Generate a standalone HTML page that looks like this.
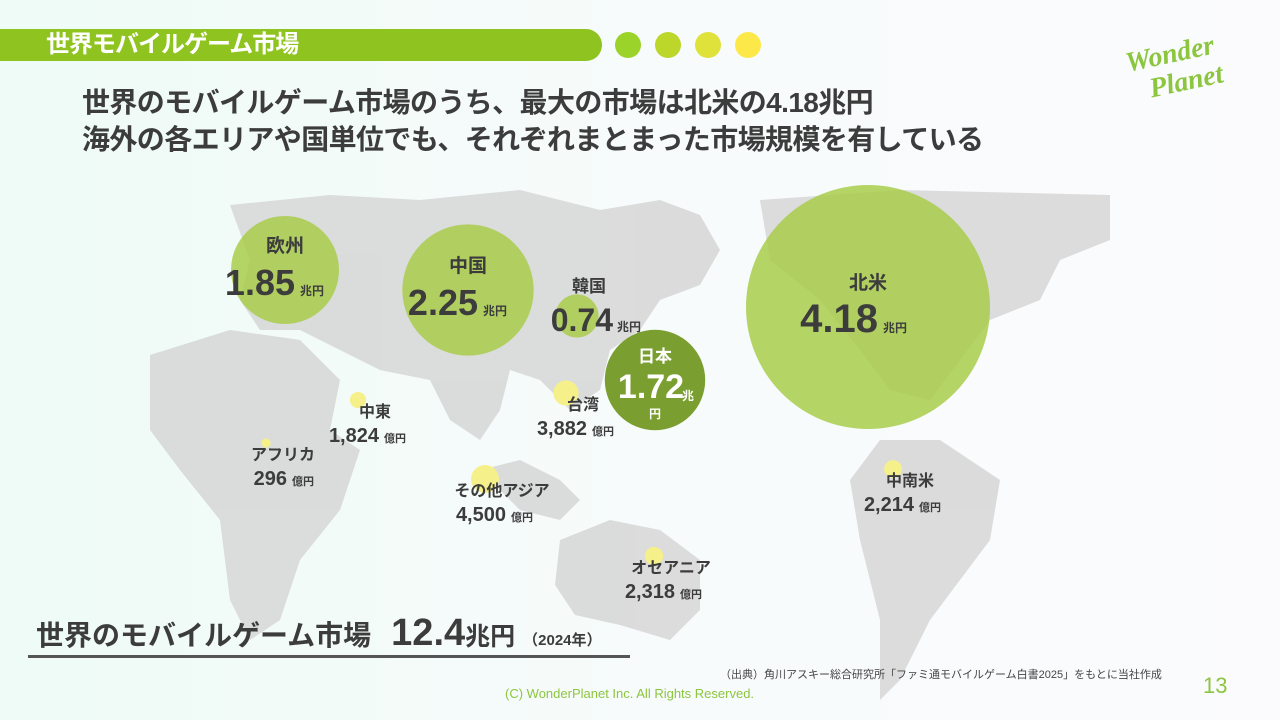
<!DOCTYPE html>
<html><head><meta charset="utf-8">
<style>
body{margin:0;width:1280px;height:720px;overflow:hidden;font-family:"Liberation Sans","Noto Sans CJK JP",sans-serif;}
#root{position:relative;width:1280px;height:720px;background:linear-gradient(90deg,#eefbf6 0%,#f7fbfb 50%,#fbfbfd 100%);}
.abs{position:absolute;}
</style></head><body>
<div id="root">
<div class="abs" style="left:0;top:29px;width:602px;height:32px;background:#8fc31f;border-radius:0 16px 16px 0;"></div>
<div class="abs" style="left:46px;top:30px;color:#fff;font-size:24px;font-weight:bold;line-height:30px;letter-spacing:-1px;">世界モバイルゲーム市場</div>
<div class="abs" style="left:615px;top:32px;width:26px;height:26px;border-radius:50%;background:#9bd32a"></div>
<div class="abs" style="left:655px;top:32px;width:26px;height:26px;border-radius:50%;background:#bcd72a"></div>
<div class="abs" style="left:695px;top:32px;width:26px;height:26px;border-radius:50%;background:#dfe23a"></div>
<div class="abs" style="left:735px;top:32px;width:26px;height:26px;border-radius:50%;background:#fde84a"></div>
<div class="abs" style="left:1130px;top:36px;width:120px;height:80px;color:#8cc63f;font-family:'Liberation Serif',serif;font-style:italic;font-weight:bold;transform:rotate(-12deg);">
<div style="font-size:28px;line-height:30px;">Wonder</div><div style="font-size:28px;line-height:30px;margin-left:18px;">Planet</div></div>
<div class="abs" style="left:82px;top:84px;color:#3c3c3c;font-size:28px;font-weight:bold;line-height:37px;letter-spacing:-0.6px;white-space:nowrap;">世界のモバイルゲーム市場のうち、最大の市場は北米の4.18兆円<br>海外の各エリアや国単位でも、それぞれまとまった市場規模を有している</div>
<svg class="abs" style="left:0;top:0" width="1280" height="720">
<g fill="#d8d8d8" opacity="0.9">
<path d="M230,205 L330,195 L420,200 L520,190 L600,210 L660,200 L700,215 L720,250 L700,285 L660,300 L640,330 L610,350 L600,390 L570,410 L540,380 L510,370 L500,410 L480,440 L450,420 L430,380 L380,370 L340,350 L300,330 L260,330 L240,300 L250,260 Z"/>
<path d="M150,355 L230,330 L300,340 L340,380 L330,430 L360,450 L340,510 L300,560 L280,620 L250,640 L230,600 L220,520 L180,470 L150,430 Z"/>
<path d="M480,470 L520,460 L560,480 L580,500 L560,520 L520,510 Z"/>
<path d="M560,540 L610,520 L660,530 L700,560 L700,610 L670,640 L620,625 L575,615 L555,585 Z"/>
<path d="M760,200 L900,190 L1110,195 L1110,240 L1060,260 L1040,300 L990,320 L960,360 L930,400 L890,390 L860,350 L820,300 L770,260 Z"/>
<path d="M880,440 L940,440 L1000,480 L990,540 L960,580 L930,620 L900,680 L880,700 L880,620 L860,540 L850,480 Z"/>
</g>
<g id="bubbles"></g>
<g id="labels"></g>
</svg>
<div class="abs" style="left:36px;top:612px;color:#3c3c3c;font-weight:bold;white-space:nowrap;">
<span style="font-size:28px;">世界のモバイルゲーム市場</span><span style="font-size:38px;margin-left:20px;">12.4</span><span style="font-size:25px;">兆円</span><span style="font-size:15px;margin-left:8px;">（2024年）</span></div>
<div class="abs" style="left:28px;top:655px;width:602px;height:3px;background:#555;"></div>
<div class="abs" style="left:720px;top:666px;font-size:11px;color:#444;">（出典）角川アスキー総合研究所「ファミ通モバイルゲーム白書2025」をもとに当社作成</div>
<div class="abs" style="left:505px;top:686px;font-size:13px;color:#8cc63f;">(C) WonderPlanet Inc.  All Rights Reserved.</div>
<div class="abs" style="left:1203px;top:673px;font-size:22px;color:#8cc63f;">13</div>
</div>
<script>
// large markets (兆円)
const bigNames=["欧州","中国","韓国","日本","北米"];
const bigValues=[1.85,2.25,0.74,1.72,4.18];
const bigLoc=[[285,270],[468,290],[577,316],[655,380],[868,307]];
// small markets (億円)
const smallNames=["中東","台湾","その他アジア","アフリカ","オセアニア","中南米"];
const smallValues=[1824,3882,4500,296,2318,2214];
const smallLoc=[[358,400],[566,393],[485,479],[266,443],[654,556],[893,469]];
const NS="http://www.w3.org/2000/svg";
const rScale=v=>v/4.18*122;
const sScale=v=>4+v/450;
const gb=document.getElementById('bubbles'),gl=document.getElementById('labels');
function txt(x,y,s,size,anchor,fill){const t=document.createElementNS(NS,'text');t.setAttribute('x',x);t.setAttribute('y',y);t.setAttribute('font-size',size);t.setAttribute('font-weight','bold');t.setAttribute('text-anchor',anchor||'middle');t.setAttribute('fill',fill||'#3c3c3c');t.textContent=s;gl.appendChild(t);return t;}
bigValues.forEach((v,i)=>{
 const [cx,cy]=bigLoc[i];const r=rScale(v);
 const c=document.createElementNS(NS,'circle');
 
 
 c.setAttribute('cx',cx);c.setAttribute('cy',cy);c.setAttribute('r',r);
 c.setAttribute('fill',bigNames[i]==="日本"?'#7a9f30':'#a9cc4b');c.setAttribute('opacity',bigNames[i]==="日本"?1:0.85);
 gb.appendChild(c);
 const dark=bigNames[i]==="日本";const col=dark?'#fff':'#3c3c3c';
 if(bigNames[i]==="韓国"){txt(cx+12,cy-24,bigNames[i],17);const t=txt(cx+36,cy+15,v.toFixed(2),32,'end');txt(cx+52,cy+15,'兆円',12);return;}
 if(dark){txt(cx,cy-18,bigNames[i],17,'middle',col);txt(cx-4,cy+18,v.toFixed(2),34,'middle',col);txt(cx+33,cy+20,'兆',12,'middle',col);txt(cx,cy+38,'円',12,'middle',col);return;}
 const big=v>4?40:36;
 txt(cx,cy-18,bigNames[i],19);
 const t=txt(cx+10,cy+25,v.toFixed(2),big,'end');
 txt(cx+27,cy+25,'兆円',12);
});
smallValues.forEach((v,i)=>{
 const [cx,cy]=smallLoc[i];
 const c=document.createElementNS(NS,'circle');
 
 
 c.setAttribute('cx',cx);c.setAttribute('cy',cy);c.setAttribute('r',sScale(v));c.setAttribute('fill','#f6f08a');
 gb.appendChild(c);
 txt(cx+17,cy+17,smallNames[i],16);
 txt(cx+21,cy+42,v.toLocaleString('en-US'),20,'end');
 txt(cx+37,cy+42,'億円',11);
});
</script>
</body></html>
